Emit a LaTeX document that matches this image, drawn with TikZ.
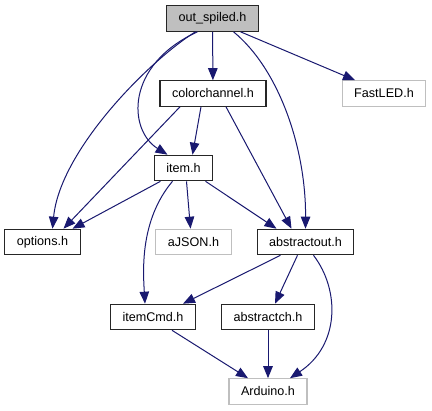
\documentclass[tikz,border=0pt]{standalone}
\usepackage{fontspec}
\setmainfont{Liberation Sans}
\usepackage{xcolor}
\usetikzlibrary{arrows.meta,positioning}
\definecolor{edgeblue}{HTML}{191970}
\definecolor{hdrgray}{HTML}{BFBFBF}

\begin{document}
\begin{tikzpicture}[x=1pt,y=-1pt,every node/.style={font=\fontsize{12.6}{14}\selectfont},
  box/.style={draw=black!85,line width=1.1pt,inner xsep=12pt,inner ysep=0pt,minimum height=25.5pt,fill=white},
  extbox/.style={box,draw=hdrgray},
  arr/.style={-{Triangle[length=12pt,width=9.5pt]},edgeblue,line width=1pt}]
\useasboundingbox[fill=white](0,0) rectangle (432,411);
\node[box,fill=hdrgray](os) at (212.5,18.5){out\_spiled.h};
\node[box](cc) at (213,93.5){colorchannel.h};
\node[extbox](fl) at (384,93.5){FastLED.h};
\node[box](it) at (183.5,168){item.h};
\node[box](op) at (42.5,242){options.h};
\node[extbox](aj) at (193.5,242){aJSON.h};
\node[box](ao) at (305.5,242){abstractout.h};
\node[box](ic) at (153,317){itemCmd.h};
\node[box](ac) at (268,317){abstractch.h};
\node[extbox](ar) at (268,391.5){Arduino.h};
% out_spiled.h
\draw[arr](os)--(cc);
\draw[arr]([xshift=28pt]os.south)--([xshift=-29pt]fl.north);
\draw[arr]([xshift=-17pt]os.south) .. controls (150,60) and (60,150) .. ([xshift=10pt]op.north);
\draw[arr]([xshift=-15pt]os.south) .. controls (125,65) and (128,130) .. ([xshift=-16pt]it.north);
\draw[arr]([xshift=21pt]os.south) .. controls (280,70) and (306,150) .. (ao.north);
% colorchannel.h
\draw[arr]([xshift=-33pt]cc.south)--([xshift=21pt]op.north);
\draw[arr]([xshift=-12pt]cc.south)--([xshift=9pt]it.north);
\draw[arr]([xshift=13pt]cc.south)--([xshift=-14pt]ao.north);
% item.h
\draw[arr]([xshift=-23pt]it.south)--([xshift=30pt]op.north);
\draw[arr]([xshift=3pt]it.south)--([xshift=-3pt]aj.north);
\draw[arr]([xshift=22pt]it.south)--([xshift=-29pt]ao.north);
\draw[arr]([xshift=-11pt]it.south) .. controls (140,220) and (143,270) .. ([xshift=-8pt]ic.north);
% abstractout.h
\draw[arr]([xshift=-25pt]ao.south)--([xshift=30pt]ic.north);
\draw[arr]([xshift=-8pt]ao.south)--([xshift=7pt]ac.north);
\draw[arr]([xshift=8pt]ao.south) .. controls (340,290) and (340,345) .. ([xshift=22pt]ar.north);
% itemCmd.h, abstractch.h
\draw[arr]([xshift=19pt]ic.south)--([xshift=-20pt]ar.north);
\draw[arr](ac)--(ar);
\end{tikzpicture}
\end{document}
